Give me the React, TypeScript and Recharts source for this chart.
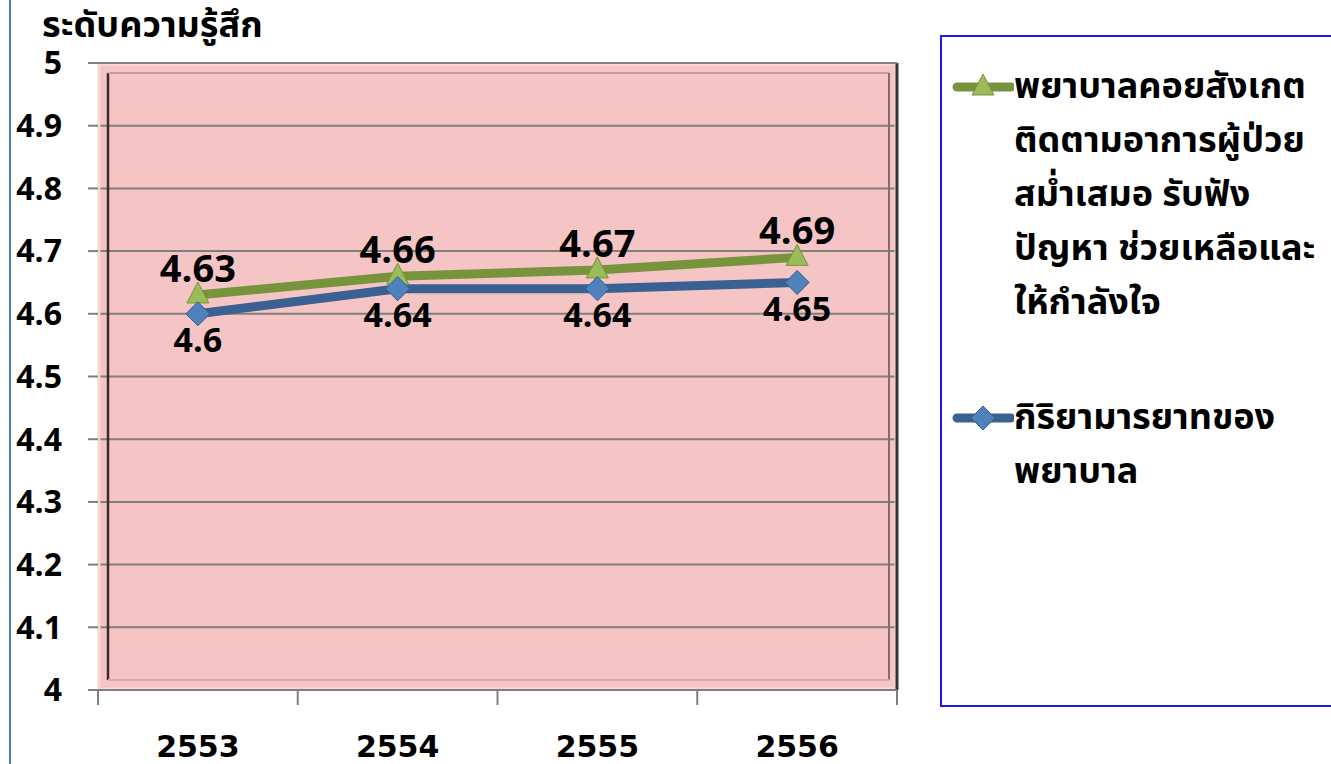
import React from 'react';
import { LineChart, Line, XAxis, YAxis, CartesianGrid, LabelList, Legend, ReferenceArea } from 'recharts';

const categories = ['2553', '2554', '2555', '2556'];
const observeValues = [4.63, 4.66, 4.67, 4.69];
const mannerValues = [4.6, 4.64, 4.64, 4.65];
const yTicks = [4, 4.1, 4.2, 4.3, 4.4, 4.5, 4.6, 4.7, 4.8, 4.9, 5];
const yTitle = 'ระดับความรู้สึก';
const observeName = 'พยาบาลคอยสังเกตติดตามอาการผู้ป่วยสม่ำเสมอ รับฟังปัญหา ช่วยเหลือและให้กำลังใจ';
const observeLines = ['พยาบาลคอยสังเกต', 'ติดตามอาการผู้ป่วย', 'สม่ำเสมอ รับฟัง', 'ปัญหา ช่วยเหลือและ', 'ให้กำลังใจ'];
const mannerName = 'กิริยามารยาทของพยาบาล';
const mannerLines = ['กิริยามารยาทของ', 'พยาบาล'];
const legendOrder = ['observe', 'manner'];

const data = categories.map((c, i) => ({ year: c, observe: observeValues[i], manner: mannerValues[i] }));

const GREEN = '#77933C';
const GREEN_FILL = '#9BBB59';
const BLUE = '#3A6192';
const BLUE_FILL = '#4F81BD';
const THAI = "'Noto Sans Thai', 'Noto Sans Thai UI', Tahoma, 'Noto Sans', sans-serif";
const NUM = "'Open Sans', 'Noto Sans', sans-serif";

const Triangle = (props: any) => {
  const { cx, cy } = props;
  if (cx == null || cy == null) return null;
  return (
    <polygon
      key={`t-${cx}`}
      points={`${cx},${cy - 13} ${cx + 11},${cy + 8} ${cx - 11},${cy + 8}`}
      fill={GREEN_FILL}
      stroke={GREEN}
      strokeWidth={1}
    />
  );
};

const Diamond = (props: any) => {
  const { cx, cy } = props;
  if (cx == null || cy == null) return null;
  return (
    <polygon
      key={`d-${cx}`}
      points={`${cx},${cy - 12} ${cx + 12},${cy} ${cx},${cy + 12} ${cx - 12},${cy}`}
      fill={BLUE_FILL}
      stroke="#385D8A"
      strokeWidth={1}
    />
  );
};

const XTick = (props: any) => {
  const { x, y, payload, width, index } = props;
  const bw = width / categories.length;
  const last = index === categories.length - 1;
  return (
    <g>
      <line x1={x - bw / 2} x2={x - bw / 2} y1={y} y2={y + 15} stroke="#7F7F7F" strokeWidth={2} />
      {last && <line x1={x + bw / 2} x2={x + bw / 2} y1={y} y2={y + 15} stroke="#7F7F7F" strokeWidth={2} />}
      <text x={x} y={y + 67} textAnchor="middle" fontFamily="'DejaVu Sans', sans-serif" fontWeight="bold" fontSize={30} fill="#000">
        {payload.value}
      </text>
    </g>
  );
};

const Frame = (props: any) => {
  const { x, y, width, height } = props;
  return (
    <g>
      <rect x={x + 1} y={y + 1} width={width - 2} height={height - 2} fill="none" stroke="#F9D6D6" strokeWidth={3} />
      <line x1={x + 10} x2={x + 10} y1={y + 10} y2={y + height - 10} stroke="#3A2A2A" strokeWidth={2.5} />
      <line x1={x + 10} x2={x + width - 8} y1={y + 10} y2={y + 10} stroke="#C99A9A" strokeWidth={2} />
      <line x1={x + width - 8} x2={x + width - 8} y1={y + 10} y2={y + height - 10} stroke="#8A6A6A" strokeWidth={2} />
      <line x1={x + 10} x2={x + width - 8} y1={y + height - 10} y2={y + height - 10} stroke="#D8A8A8" strokeWidth={2} />
      <line x1={x + width} x2={x + width} y1={y} y2={y + height} stroke="#333" strokeWidth={3} />
      <line x1={x} x2={x + width} y1={y} y2={y} stroke="#7F7F7F" strokeWidth={2} />
    </g>
  );
};

const LegendBox = (props: any) => {
  const { payload } = props;
  const linesFor: Record<string, string[]> = { observe: observeLines, manner: mannerLines };
  const items = [...(payload || [])].sort(
    (a: any, b: any) => legendOrder.indexOf(a.dataKey) - legendOrder.indexOf(b.dataKey)
  );
  return (
    <div
      style={{
        width: 420,
        height: 672,
        border: '2px solid #1A1AF0',
        boxSizing: 'border-box',
        paddingTop: 26,
        background: '#fff',
      }}
    >
      {items.map((entry: any, i: number) => {
        const key = entry.dataKey as string;
        const lines = linesFor[key] || [entry.value];
        const isTri = key === 'observe';
        return (
          <div key={key} style={{ display: 'flex', alignItems: 'flex-start', marginBottom: i === 0 ? 64 : 0 }}>
            <svg width={62} height={44} style={{ flex: '0 0 auto', marginLeft: 10, marginTop: 2 }}>
              <line x1={5} x2={59} y1={22} y2={22} stroke={isTri ? GREEN : BLUE} strokeWidth={9} strokeLinecap="round" />
              {isTri ? (
                <polygon points="31,9 42,30 20,30" fill={GREEN_FILL} stroke={GREEN} strokeWidth={1} />
              ) : (
                <polygon points="31,10 43,22 31,34 19,22" fill={BLUE_FILL} stroke="#385D8A" strokeWidth={1} />
              )}
            </svg>
            <div style={{ fontFamily: THAI, fontWeight: 'bold', fontSize: 36, lineHeight: '54px', color: '#000', marginTop: -3 }}>
              {lines.map((l) => (
                <div key={l} style={{ whiteSpace: 'nowrap' }}>{l}</div>
              ))}
            </div>
          </div>
        );
      })}
    </div>
  );
};

export default function App() {
  return (
    <div style={{ position: 'absolute', left: 0, top: 0, width: 1331, height: 764, background: '#fff', overflow: 'hidden' }}>
      <div style={{ position: 'absolute', left: 9, top: 0, width: 2, height: 764, background: '#4A7EBB' }} />
      <div style={{ position: 'absolute', left: 0, top: 0 }}>
        <LineChart width={1331} height={764} data={data} margin={{ top: 63, right: 434, bottom: 0, left: 0 }}>
          <CartesianGrid horizontal vertical={false} stroke="#7F7F7F" strokeWidth={2} fill="#F5C4C5" fillOpacity={1} />
          <ReferenceArea y1={4} y2={5} fill="none" stroke="none" shape={(p: any) => <Frame {...p} />} ifOverflow="visible" />
          <XAxis
            dataKey="year"
            scale="band"
            height={74}
            tickLine={false}
            tickSize={0}
            tickMargin={0}
            axisLine={{ stroke: '#7F7F7F', strokeWidth: 2 }}
            tick={(p: any) => <XTick {...p} />}
            interval={0}
          />
          <YAxis
            width={98}
            domain={[4, 5]}
            ticks={yTicks}
            interval={0}
            axisLine={false}
            tickLine={{ stroke: '#7F7F7F', strokeWidth: 2 }}
            tickSize={10}
            tickMargin={26}
            tick={{ fontFamily: NUM, fontWeight: 'bold', fontSize: 32, fill: '#000' }}
            tickFormatter={(v: number) => String(Math.round(v * 10) / 10)}
          />
          <Legend
            layout="horizontal"
            verticalAlign="middle"
            align="center"
            wrapperStyle={{ left: 940, top: 35, width: 420, height: 672 }}
            content={(p: any) => <LegendBox {...p} />}
          />
          <Line
            type="linear"
            dataKey="observe"
            name={observeName}
            stroke={GREEN}
            strokeWidth={9}
            dot={(p: any) => <Triangle {...p} />}
            activeDot={false}
            isAnimationActive={false}
          >
            <LabelList dataKey="observe" position="top" offset={13} style={{ fontFamily: NUM, fontWeight: 'bold', fontSize: 38, fill: '#000' }} />
          </Line>
          <Line
            type="linear"
            dataKey="manner"
            name={mannerName}
            stroke={BLUE}
            strokeWidth={9}
            dot={(p: any) => <Diamond {...p} />}
            activeDot={false}
            isAnimationActive={false}
          >
            <LabelList dataKey="manner" position="bottom" offset={14} style={{ fontFamily: NUM, fontWeight: 'bold', fontSize: 34, fill: '#000' }} />
          </Line>
        </LineChart>
      </div>
      <div
        style={{
          position: 'absolute',
          left: 42,
          top: 10,
          fontFamily: THAI,
          fontWeight: 'bold',
          fontSize: 36,
          lineHeight: '32px',
          color: '#000',
          whiteSpace: 'nowrap',
        }}
      >
        {yTitle}
      </div>
    </div>
  );
}
